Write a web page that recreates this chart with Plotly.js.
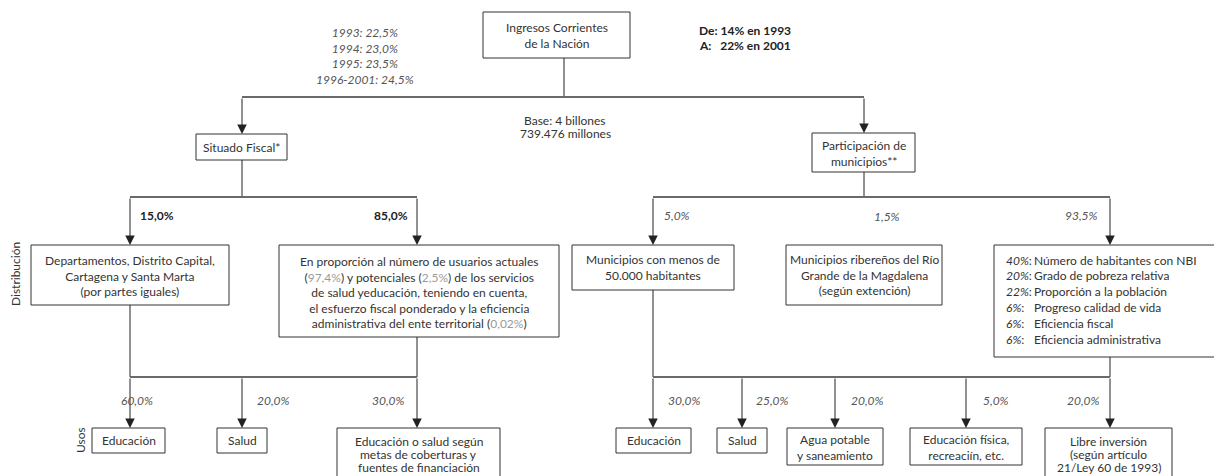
<!DOCTYPE html>
<html><head><meta charset="utf-8">
<script src="https://cdn.plot.ly/plotly-3.0.1.min.js"></script>
<style>html,body{margin:0;padding:0;background:#fff;}#chart{width:1214px;height:476px;}</style>
</head><body><div id="chart"></div>
<script>
// ---------- data (texts and shares) ----------
const fuente = ['Ingresos Corrientes', 'de la Nación'];
const situadoYears = ['1993: 22,5%', '1994: 23,0%', '1995: 23,5%', '1996-2001: 24,5%'];
const participacionRange = ['De: 14% en 1993', 'A:&nbsp;&nbsp;&nbsp;22% en 2001'];
const baseText = ['Base: 4 billones', '739.476 millones'];
const ramas = ['Situado Fiscal*', 'Participación de<br>municipios**'];
const situadoDistPct = ['15,0%', '85,0%'];
const situadoDistLabels = [
  'Departamentos, Distrito Capital,<br>Cartagena y Santa Marta<br>(por partes iguales)',
  'En proporción al número de usuarios actuales<br>(<span style="color:#9a9a9a">97,4%</span>) y potenciales (<span style="color:#9a9a9a">2,5%</span>) de los servicios<br>de salud yeducación, teniendo en cuenta,<br>el esfuerzo fiscal ponderado y la eficiencia<br>administrativa del ente territorial (<span style="color:#9a9a9a">0,02%</span>)'
];
const partDistPct = ['5,0%', '1,5%', '93,5%'];
const partDistLabels = [
  'Municipios con menos de<br>50.000 habitantes',
  'Municipios ribereños del Río<br>Grande de la Magdalena<br>(según extención)'
];
const nbiWeights = ['40%', '20%', '22%', '6%', '6%', '6%'];
const nbiCriteria = ['Número de habitantes con NBI', 'Grado de pobreza relativa', 'Proporción a la población',
  'Progreso calidad de vida', 'Eficiencia fiscal', 'Eficiencia administrativa'];
const situadoUsos = ['Educación', 'Salud', ['Educación o salud según', 'metas de coberturas y', 'fuentes de financiación']];
const situadoUsosPct = ['60,0%', '20,0%', '30,0%'];
const partUsos = ['Educación', 'Salud', 'Agua potable<br>y saneamiento', 'Educación física,<br>recreaciín, etc.',
  ['Libre inversión', '(según artículo', '21/Ley 60 de 1993)']];
const partUsosPct = ['30,0%', '25,0%', '20,0%', '5,0%', '20,0%'];
const rowLabels = ['Distribución', 'Usos'];

// ---------- geometry (layout only) ----------
const FONT = 'Lato, "Open Sans", sans-serif';
const TXT = '#333333', PCT = '#555555', LINE = '#222222', HLINE = '#6a6a6a';
const shapes = [], ann = [];

function hline(y, x0, x1) { shapes.push({type:'line', xref:'x', yref:'y', x0, x1, y0:y, y1:y, line:{color:HLINE, width:1.8}}); }
function vline(x, y0, y1) { shapes.push({type:'line', xref:'x', yref:'y', x0:x, x1:x, y0, y1, line:{color:LINE, width:1}}); }
function box(x0, x1, y0, y1) { shapes.push({type:'rect', xref:'x', yref:'y', x0, x1, y0, y1, line:{color:'#333', width:1}, fillcolor:'rgba(0,0,0,0)'}); }
function arrow(x, y0, y1) {
  ann.push({x, y:y1, ax:x, ay:y0, xref:'x', yref:'y', axref:'x', ayref:'y', text:'', showarrow:true,
    arrowhead:2, arrowsize:1.9, arrowwidth:1, arrowcolor:LINE, standoff:0, startstandoff:0});
}
function label(x, y, text, o) {
  o = o || {};
  ann.push({x, y, xref:'x', yref:'y', text, showarrow:false, xanchor:o.xa || 'center', yanchor:'middle',
    align:o.align || 'center', textangle:o.angle || 0,
    font:{family:FONT, size:o.size || 12, color:o.color || TXT}});
}
function lines(x, y0, step, arr, o) { arr.forEach((t, i) => label(x, y0 + i * step, t, o)); }

// top node
box(483, 630, 12, 58);
label(556.5, 35, fuente.join('<br>'));
label(365, 56, situadoYears.map(t => '<i>' + t + '</i>').join('<br>'), {color:PCT, size:12});
lines(697, 30, 15, participacionRange.map(t => '<b>' + t + '</b>'), {xa:'left', align:'left', color:'#222'});
lines(565, 120, 13.5, baseText);
vline(564, 58, 97);
hline(97, 242, 864);
arrow(242, 97, 134);
arrow(864, 97, 133);

// branch boxes
box(196, 287, 134, 160);
label(241.5, 147, ramas[0]);
box(812, 915, 133, 172);
label(863.5, 153, ramas[1]);

// Situado Fiscal distribution
vline(242, 160, 197);
hline(197, 130, 417);
arrow(130, 197, 245); arrow(417, 197, 245);
label(138, 215, '<b>' + situadoDistPct[0] + '</b>', {xa:'left', color:'#222'});
label(410, 215, '<b>' + situadoDistPct[1] + '</b>', {xa:'right', color:'#222'});
box(31, 229, 245, 305);
label(130, 276, situadoDistLabels[0]);
box(279, 559, 245, 337);
label(419, 292, situadoDistLabels[1]);

// Participación distribution
vline(864, 172, 197);
hline(197, 653, 1110);
arrow(653, 197, 245); arrow(1110, 197, 245);
label(662, 215, '<i>' + partDistPct[0] + '</i>', {xa:'left', color:PCT});
label(872, 216, '<i>' + partDistPct[1] + '</i>', {xa:'left', color:PCT});
label(1100, 215, '<i>' + partDistPct[2] + '</i>', {xa:'right', color:PCT});
box(572, 734, 245, 290);
label(653, 267, partDistLabels[0]);
box(786, 942, 245, 305);
label(864, 275, partDistLabels[1]);
box(994, 1240, 245, 357);
nbiWeights.forEach((w, i) => {
  const y = 260 + i * 15.8;
  label(1004, y, '<i>' + w + '</i>:', {xa:'left', align:'left'});
  label(1032, y, nbiCriteria[i], {xa:'left', align:'left'});
});

// Situado usos
vline(130, 305, 377); vline(417, 337, 377);
hline(377, 130, 417);
[130, 242, 417].forEach(x => arrow(x, 377, 428));
label(137, 400, '<i>' + situadoUsosPct[0] + '</i>', {color:PCT});
label(273, 400, '<i>' + situadoUsosPct[1] + '</i>', {color:PCT});
label(388, 400, '<i>' + situadoUsosPct[2] + '</i>', {color:PCT});
box(92, 165, 428, 453); label(128.5, 440.5, situadoUsos[0]);
box(217, 267, 428, 453); label(242, 440.5, situadoUsos[1]);
box(337, 500, 428, 482); lines(418.5, 441, 13.3, situadoUsos[2]);

// Participación usos
vline(653, 290, 377); vline(1110, 357, 377);
hline(377, 653, 1110);
[653, 742, 835, 966, 1110].forEach(x => arrow(x, 377, 428));
const puPctX = [684, 772, 867, 996, 1083];
partUsosPct.forEach((p, i) => label(puPctX[i], 400, '<i>' + p + '</i>', {color:PCT}));
box(616, 691, 428, 453); label(653.5, 440.5, partUsos[0]);
box(717, 767, 428, 453); label(742, 440.5, partUsos[1]);
box(787, 883, 428, 465); label(835, 447.5, partUsos[2]);
box(910, 1022, 428, 465); label(966, 447.5, partUsos[3]);
box(1045, 1172, 428, 482); lines(1108.5, 441, 13.3, partUsos[4]);

// row labels
label(15, 274, rowLabels[0], {angle:-90});
label(80, 440, rowLabels[1], {angle:-90});

const layout = {
  width:1214, height:476, margin:{l:0, r:0, t:0, b:0},
  paper_bgcolor:'#fff', plot_bgcolor:'#fff', showlegend:false,
  xaxis:{range:[0,1214], visible:false, fixedrange:true},
  yaxis:{range:[476,0], visible:false, fixedrange:true},
  shapes, annotations:ann
};
Plotly.newPlot('chart', [{x:[], y:[], type:'scatter', mode:'markers', hoverinfo:'skip'}], layout, {staticPlot:true, displayModeBar:false});
</script>
</body></html>
